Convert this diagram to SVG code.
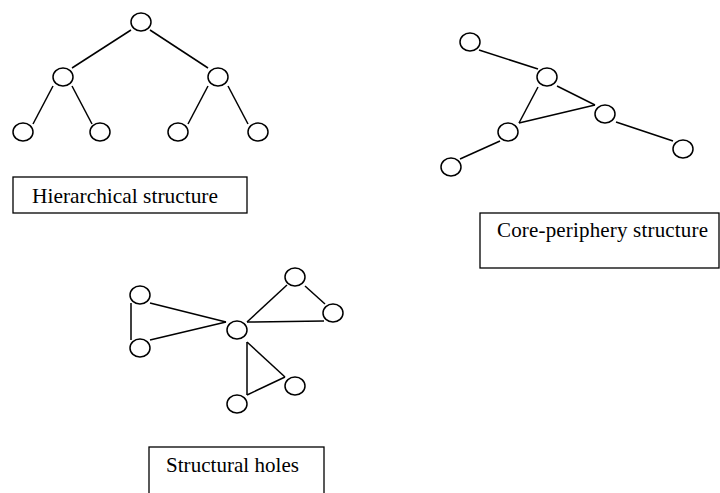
<svg xmlns="http://www.w3.org/2000/svg" width="720" height="493" viewBox="0 0 720 493">
  <style>
    .node { fill: #ffffff; stroke: #000000; stroke-width: 1.5; }
    .edge { stroke: #000000; stroke-width: 1.5; fill: none; }
    .box { fill: #ffffff; stroke: #000000; stroke-width: 1.3; }
    .label { font-family: "Liberation Serif", "Times New Roman", serif; font-size: 21px; fill: #000000; }
  </style>
  <rect width="720" height="493" fill="#ffffff"/>

  <!-- connectors -->
  <g id="connectors">
    <!-- hierarchical tree -->
    <line class="edge" x1="131" y1="30" x2="72" y2="68"/>
    <line class="edge" x1="150" y1="30" x2="208" y2="68"/>
    <line class="edge" x1="53" y1="86" x2="33" y2="124"/>
    <line class="edge" x1="72" y1="86" x2="92" y2="124"/>
    <line class="edge" x1="208" y1="86" x2="188" y2="124"/>
    <line class="edge" x1="228" y1="86" x2="248" y2="124"/>
    <!-- core-periphery -->
    <line class="edge" x1="479" y1="50" x2="538" y2="69"/>
    <line class="edge" x1="557" y1="86" x2="595" y2="105"/>
    <line class="edge" x1="538" y1="87" x2="519" y2="123"/>
    <line class="edge" x1="519" y1="123" x2="595" y2="105"/>
    <line class="edge" x1="500" y1="141" x2="460" y2="159"/>
    <line class="edge" x1="616" y1="122" x2="673" y2="141"/>
    <!-- structural holes -->
    <line class="edge" x1="131" y1="303" x2="131" y2="340"/>
    <line class="edge" x1="150" y1="303" x2="226" y2="322"/>
    <line class="edge" x1="150" y1="340" x2="226" y2="322"/>
    <line class="edge" x1="247" y1="322" x2="287" y2="285"/>
    <line class="edge" x1="247" y1="322" x2="324" y2="321"/>
    <line class="edge" x1="305" y1="286" x2="325" y2="304"/>
    <line class="edge" x1="247" y1="342" x2="247" y2="395"/>
    <line class="edge" x1="247" y1="342" x2="285" y2="377"/>
    <line class="edge" x1="247" y1="395" x2="285" y2="377"/>
  </g>

  <!-- hierarchical structure nodes -->
  <g id="h-root"><ellipse class="node" cx="141" cy="22" rx="10" ry="9"/></g>
  <g id="h-left"><ellipse class="node" cx="63" cy="77" rx="10" ry="9"/></g>
  <g id="h-right"><ellipse class="node" cx="218" cy="77" rx="10" ry="9"/></g>
  <g id="h-leaf1"><ellipse class="node" cx="23" cy="132" rx="10" ry="9"/></g>
  <g id="h-leaf2"><ellipse class="node" cx="100" cy="132" rx="10" ry="9"/></g>
  <g id="h-leaf3"><ellipse class="node" cx="178" cy="132" rx="10" ry="9"/></g>
  <g id="h-leaf4"><ellipse class="node" cx="258" cy="132" rx="10" ry="9"/></g>
  <g id="h-label">
    <rect class="box" x="13" y="177" width="234" height="36"/>
    <text class="label" x="32" y="203" textLength="186" lengthAdjust="spacingAndGlyphs">Hierarchical structure</text>
  </g>

  <!-- core-periphery structure nodes -->
  <g id="cp-a"><ellipse class="node" cx="470" cy="42" rx="10" ry="9"/></g>
  <g id="cp-b"><ellipse class="node" cx="547" cy="77" rx="10" ry="9"/></g>
  <g id="cp-c"><ellipse class="node" cx="605" cy="114" rx="10" ry="9"/></g>
  <g id="cp-d"><ellipse class="node" cx="508" cy="132" rx="10" ry="9"/></g>
  <g id="cp-e"><ellipse class="node" cx="451" cy="167" rx="10" ry="9"/></g>
  <g id="cp-f"><ellipse class="node" cx="683" cy="149" rx="10" ry="9"/></g>
  <g id="cp-label">
    <rect class="box" x="480" y="213" width="239" height="55"/>
    <text class="label" x="497" y="237" textLength="211" lengthAdjust="spacing">Core-periphery structure</text>
  </g>

  <!-- structural holes nodes -->
  <g id="sh-a"><ellipse class="node" cx="140" cy="295" rx="10" ry="9"/></g>
  <g id="sh-b"><ellipse class="node" cx="140" cy="348" rx="10" ry="9"/></g>
  <g id="sh-hub"><ellipse class="node" cx="237" cy="330" rx="10" ry="9"/></g>
  <g id="sh-c"><ellipse class="node" cx="295" cy="277" rx="10" ry="9"/></g>
  <g id="sh-d"><ellipse class="node" cx="333" cy="313" rx="10" ry="9"/></g>
  <g id="sh-e"><ellipse class="node" cx="295" cy="386" rx="10" ry="9"/></g>
  <g id="sh-f"><ellipse class="node" cx="237" cy="404" rx="10" ry="9"/></g>
  <g id="sh-label">
    <rect class="box" x="149" y="447" width="175" height="60"/>
    <text class="label" x="166" y="472" textLength="133" lengthAdjust="spacing">Structural holes</text>
  </g>
</svg>
